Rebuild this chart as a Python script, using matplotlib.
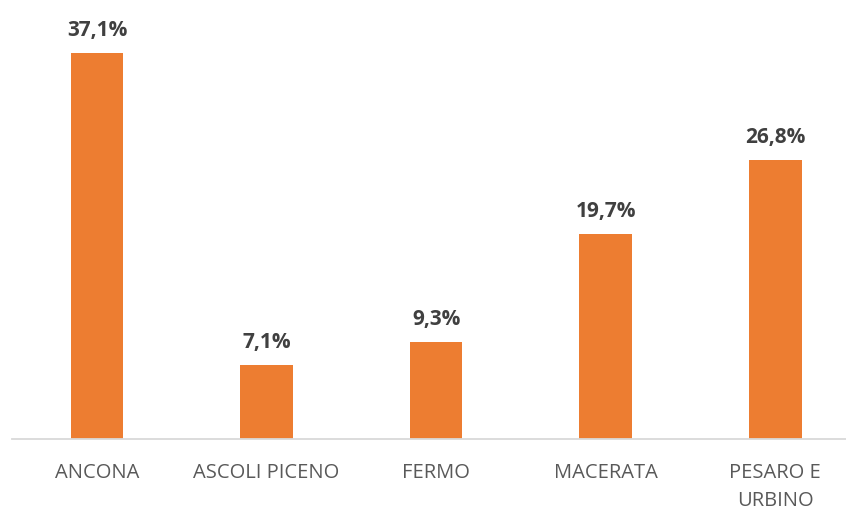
import matplotlib
matplotlib.use('Agg')
import matplotlib.pyplot as plt

# ---- data --------------------------------------------------------------------
CATEGORIES = ['ANCONA', 'ASCOLI PICENO', 'FERMO', 'MACERATA', 'PESARO E\nURBINO']
VALUES = [37.1, 7.1, 9.3, 19.7, 26.8]
LABELS = ['37,1%', '7,1%', '9,3%', '19,7%', '26,8%']

BAR_COLOR = '#ED7D31'
W, H, DPI = 846, 507, 100

plt.rcParams['font.family'] = ['Open Sans', 'DejaVu Sans']

fig = plt.figure(figsize=(W / DPI, H / DPI), dpi=DPI)
# axes in pixel coords: x from 12 to 860 (cropped on the right), baseline at y=439
left, right, base, top = 12.25, 860.0, 439.0, 23.0
ax = fig.add_axes([left / W, (H - base) / H, (right - left) / W, (base - top) / H])

x = list(range(len(CATEGORIES)))
ax.bar(x, VALUES, width=0.31, color=BAR_COLOR, zorder=2)
ax.set_xlim(-0.5, len(CATEGORIES) - 0.5)
ax.set_ylim(0, 40)

for xi, v, lab in zip(x, VALUES, LABELS):
    ax.annotate(lab, (xi, v), xytext=(0, 16.5), textcoords='offset points',
                ha='center', va='center', fontsize=15, fontweight='bold',
                color='#404040')

for s in ['top', 'right', 'left']:
    ax.spines[s].set_visible(False)
ax.spines['bottom'].set_color('#D9D9D9')
ax.spines['bottom'].set_linewidth(1.3)
ax.set_yticks([])
ax.set_xticks(x)
ax.set_xticklabels(CATEGORIES, fontsize=14.5, color='#595959', linespacing=1.5)
ax.tick_params(axis='x', length=0, pad=17.5)

fig.savefig('out.png', dpi=DPI)
